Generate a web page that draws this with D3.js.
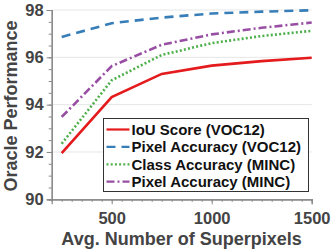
<!DOCTYPE html>
<html>
<head>
<meta charset="utf-8">
<script src="https://cdn.jsdelivr.net/npm/d3@7"></script>
<style>
  body { margin: 0; background: #fff; }
  svg text { font-family: "Liberation Sans", Arial, sans-serif; font-weight: bold; }
</style>
</head>
<body>
<div id="chart"></div>
<script>
'use strict';

// superpixel counts on the x axis
var superpixels = [250, 500, 750, 1000, 1250, 1500];

// one array per curve
var iouVoc = [91.95, 94.32, 95.3, 95.65, 95.84, 95.98];
var pixelVoc = [96.86, 97.44, 97.68, 97.85, 97.93, 97.99];
var classMinc = [92.35, 95.03, 96.1, 96.6, 96.9, 97.12];
var pixelMinc = [93.48, 95.63, 96.53, 96.97, 97.25, 97.47];

var seriesNames = ["IoU Score (VOC12)", "Pixel Accuracy (VOC12)", "Class Accuracy (MINC)", "Pixel Accuracy (MINC)"];

var xTicks = [500, 1000, 1500];
var yTicks = [90, 92, 94, 96, 98];

drawChart();

function drawChart() {

    var svgWidth = 332;
    var svgHeight = 250;

    var svg = d3.select("#chart")
        .append("svg")
        .attr("width", svgWidth)
        .attr("height", svgHeight);

    var x = d3.scaleLinear().domain([200, 1500]).range([51.7, 311.7]);
    var y = d3.scaleLinear().domain([90, 98]).range([199.3, 10]);

    // light horizontal grid
    svg.append("g")
        .selectAll("line")
        .data(yTicks.slice(1))
        .enter().append("line")
        .attr("x1", x(200))
        .attr("x2", x(1500))
        .attr("y1", function(d) { return y(d); })
        .attr("y2", function(d) { return y(d); })
        .attr("stroke", "#e6e6e6")
        .attr("stroke-width", 1);

    // minor ticks first, then the labelled ones on top
    var xMinor = d3.range(250, 1501, 50);
    var yMinor = d3.range(90, 98.01, 0.5);

    var xAxisG = svg.append("g").attr("transform", "translate(0," + y(90) + ")");
    xAxisG.call(d3.axisBottom(x).tickValues(xMinor).tickSize(2.5).tickFormat(""));
    xAxisG.append("g").call(d3.axisBottom(x).tickValues(xTicks).tickSize(5).tickPadding(8).tickFormat(d3.format("d")));

    var yAxisG = svg.append("g").attr("transform", "translate(" + x(200) + ",0)");
    yAxisG.call(d3.axisLeft(y).tickValues(yMinor).tickSize(3).tickFormat(""));
    yAxisG.append("g").call(d3.axisLeft(y).tickValues(yTicks).tickSize(5).tickPadding(3).tickFormat(d3.format("d")));

    svg.selectAll(".domain").attr("stroke", "#888").attr("stroke-width", 1.2);
    svg.selectAll(".tick line").attr("stroke", "#888");
    svg.selectAll(".tick text")
        .attr("fill", "#444")
        .style("font-size", "16.5px");
    // no domain line on the inner (label) axes
    xAxisG.select("g").select(".domain").remove();
    yAxisG.select("g").select(".domain").remove();

    // axis titles
    svg.append("text")
        .attr("x", 181.5)
        .attr("y", 244.5)
        .attr("text-anchor", "middle")
        .attr("fill", "#444")
        .style("font-size", "18px")
        .text("Avg. Number of Superpixels");

    svg.append("text")
        .attr("transform", "translate(17,106) rotate(-90)")
        .attr("text-anchor", "middle")
        .attr("fill", "#444")
        .style("font-size", "18px")
        .text("Oracle Performance");

    var allSeries = [iouVoc, pixelVoc, classMinc, pixelMinc];
    var colors = ["#e41a1c", "#377eb8", "#4daf4a", "#984ea3"];
    var dashes = [null, "9,6", "2,2.2", "8,3,2,3"];

    var line = d3.line()
        .x(function(d, i) { return x(superpixels[i]); })
        .y(function(d) { return y(d); });

    svg.append("g")
        .selectAll("path")
        .data(allSeries)
        .enter().append("path")
        .attr("d", line)
        .attr("fill", "none")
        .attr("stroke", function(d, i) { return colors[i]; })
        .attr("stroke-width", 2.6)
        .attr("stroke-dasharray", function(d, i) { return dashes[i]; });

    // legend
    var legend = svg.append("g").attr("transform", "translate(103.5,118.5)");
    legend.append("rect")
        .attr("width", 205)
        .attr("height", 73)
        .attr("fill", "#fff")
        .attr("stroke", "#333")
        .attr("stroke-width", 1);

    var item = legend.selectAll(".item")
        .data(seriesNames)
        .enter().append("g")
        .attr("class", "item")
        .attr("transform", function(d, i) { return "translate(0," + (11 + i * 17.4) + ")"; });

    item.append("line")
        .attr("x1", 3)
        .attr("x2", 26)
        .attr("stroke", function(d, i) { return colors[i]; })
        .attr("stroke-width", 2.2)
        .attr("stroke-dasharray", function(d, i) { return dashes[i]; });

    item.append("text")
        .attr("x", 28)
        .attr("y", 5.5)
        .attr("fill", "#111")
        .style("font-size", "15px")
        .text(function(d) { return d; });
}
</script>
</body>
</html>
